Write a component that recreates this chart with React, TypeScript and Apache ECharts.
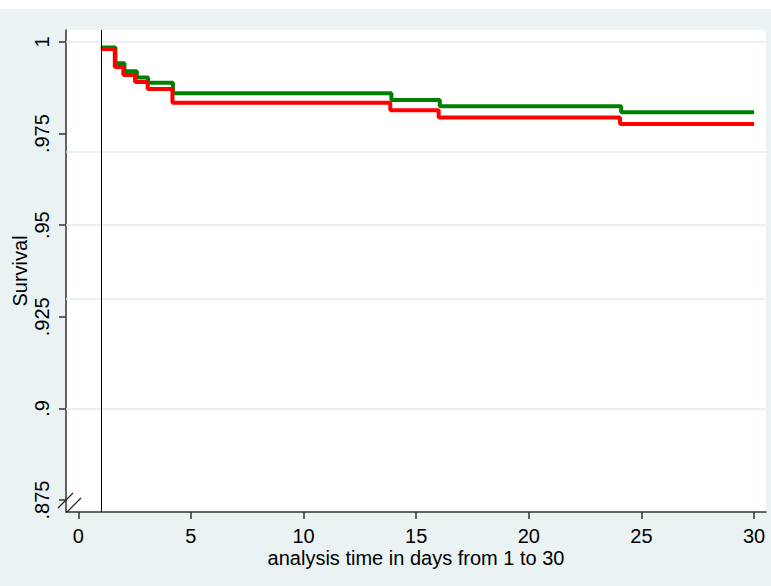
import React, { useEffect, useRef } from "react";
import * as echarts from "echarts";

const xTicks = [0, 5, 10, 15, 20, 25, 30];
const yTicks = [0.875, 0.9, 0.925, 0.95, 0.975, 1];
const gridYs = [0.9, 0.925, 0.95, 0.975, 1];
const refLineX = 1;

const greenTimes = [1, 1.65, 2.05, 2.6, 3.1, 4.2, 13.9, 16.05, 24.1, 30];
const greenSurv = [0.9985, 0.9942, 0.992, 0.9903, 0.9889, 0.986, 0.9842, 0.9825, 0.9808, 0.9808];

const redTimes = [1, 1.62, 2.0, 2.52, 3.08, 4.18, 13.85, 16.0, 24.05, 30];
const redSurv = [0.9981, 0.9932, 0.991, 0.9891, 0.9872, 0.9834, 0.9814, 0.9794, 0.9776, 0.9776];

const xName = "analysis time in days from 1 to 30";
const yName = "Survival";

const FONT = "'Liberation Sans', Arial, sans-serif";

function fmtY(v: number): string {
  if (v === 1) return "1";
  return String(v).replace(/^0/, "");
}

export default function App() {
  const ref = useRef<HTMLDivElement>(null);
  useEffect(() => {
    document.body.style.margin = "0";
    if (!ref.current) return;
    const chart = echarts.init(ref.current, undefined, { renderer: "svg" });
    const green = greenTimes.map((t, i) => [t, greenSurv[i]]);
    const red = redTimes.map((t, i) => [t, redSurv[i]]);
    chart.setOption({
      animation: false,
      backgroundColor: "#eaf2f3",
      textStyle: { fontFamily: FONT },
      graphic: [
        { type: "rect", shape: { x: 0, y: 0, width: 771, height: 9 }, style: { fill: "#ffffff" }, silent: true },
        { type: "line", shape: { x1: 58, y1: 508, x2: 73, y2: 493 }, style: { stroke: "#222", lineWidth: 1.2 }, z: 10 },
        { type: "line", shape: { x1: 67, y1: 512, x2: 81, y2: 498 }, style: { stroke: "#222", lineWidth: 1.2 }, z: 10 },
      ],
      grid: {
        left: 66,
        right: 5,
        top: 30,
        bottom: 74,
        show: true,
        backgroundColor: "#ffffff",
        borderWidth: 0,
        containLabel: false,
        outerBoundsMode: "none",
      },
      xAxis: {
        type: "value",
        min: -0.546,
        max: 30.53,
        axisLine: { show: true, onZero: false, lineStyle: { color: "#333", width: 1.5 } },
        axisTick: { show: true, customValues: xTicks, length: 7, lineStyle: { color: "#333", width: 1.5 } },
        axisLabel: {
          customValues: xTicks,
          fontSize: 20,
          color: "#000",
          fontFamily: FONT,
          margin: 14,
        },
        splitLine: { show: false },
        name: xName,
        nameLocation: "middle",
        nameGap: 36,
        nameMoveOverlap: false,
        nameTextStyle: { fontSize: 20, color: "#000", fontFamily: FONT },
      },
      yAxis: {
        type: "value",
        min: 0.87172,
        max: 1.00328,
        axisLine: { show: true, onZero: false, lineStyle: { color: "#333", width: 1.5 } },
        axisTick: { show: true, customValues: yTicks, length: 7, lineStyle: { color: "#333", width: 1.5 } },
        axisLabel: {
          customValues: yTicks,
          rotate: 90,
          fontSize: 20,
          color: "#000",
          fontFamily: FONT,
          margin: 14,
          formatter: (v: number) => fmtY(v),
        },
        splitLine: { show: false },
        name: yName,
        nameLocation: "middle",
        nameRotate: 90,
        nameGap: 36,
        nameMoveOverlap: false,
        nameTextStyle: { fontSize: 20, color: "#000", fontFamily: FONT },
      },
      series: [
        {
          type: "line",
          data: [[refLineX, 1]],
          showSymbol: false,
          symbol: "none",
          lineStyle: { width: 0 },
          silent: true,
          z: 1,
          markLine: {
            silent: true,
            symbol: "none",
            label: { show: false },
            z: 1,
            lineStyle: { color: "#e4ecef", width: 1.5, type: "solid" },
            data: gridYs.map((v) => ({ yAxis: v })),
          },
        },
        {
          type: "line",
          step: "end",
          data: green,
          showSymbol: false,
          symbol: "none",
          lineStyle: { color: "#008000", width: 4 },
          z: 2,
        },
        {
          type: "line",
          step: "end",
          data: red,
          showSymbol: false,
          symbol: "none",
          lineStyle: { color: "#ff0000", width: 4 },
          z: 3,
          markLine: {
            silent: true,
            symbol: "none",
            label: { show: false },
            lineStyle: { color: "#000", width: 1, type: "solid" },
            data: [{ xAxis: refLineX }],
          },
        },
      ],
    });
    return () => chart.dispose();
  }, []);
  return (
    <div
      ref={ref}
      style={{ position: "absolute", left: 0, top: 0, width: 771, height: 586 }}
    />
  );
}
